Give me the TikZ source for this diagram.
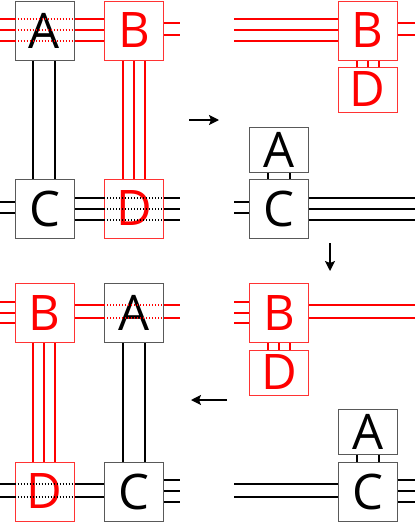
\documentclass[tikz,border=0pt]{standalone}
\usepackage{fontspec}
\setmainfont{Open Sans}
\usetikzlibrary{arrows.meta}
\pgfdeclarelayer{bg}
\pgfsetlayers{bg,main}
\begin{document}
\begin{tikzpicture}[x=1pt,y=-1pt,
  blkbox/.style={draw=black!65,line width=0.9pt,fill=white,minimum width=59pt,minimum height=59pt,inner sep=0pt,font=\fontsize{49}{49}\selectfont,text=black},
  redbox/.style={blkbox,draw=red!80,text=red},
  shortbox/.style={minimum height=45pt},
  bl/.style={line width=1.4pt,black},
  rl/.style={line width=1.4pt,red},
  bdot/.style={bl,dash pattern=on 1.4pt off 1.6pt},
  rdot/.style={rl,dash pattern=on 1.4pt off 1.6pt},
  flow/.style={line width=1.4pt,black,-{Stealth[length=10pt,width=10pt,inset=2pt]}}]
\useasboundingbox (0,0) rectangle (415,522);
% panel 1
\node[blkbox] (A1) at (44.5,30.5) {A};
\node[redbox] (B1) at (134,30.5) {B};
\node[blkbox] (C1) at (44.5,208.5) {C};
\node[redbox] (D1) at (134,208.5) {D};
% panel 2
\node[redbox] (B2) at (367.5,30.5) {B};
\node[redbox,shortbox] (D2) at (367.5,89.5) {D};
\node[blkbox,shortbox] (A2) at (279,149.5) {A};
\node[blkbox] (C2) at (279,208.5) {C};
% panel 3
\node[redbox] (B3) at (279,313) {B};
\node[redbox,shortbox] (D3) at (279,372.5) {D};
\node[blkbox,shortbox] (A3) at (367.5,432) {A};
\node[blkbox] (C3) at (367.5,491.5) {C};
% panel 4
\node[redbox] (B4) at (44.5,313) {B};
\node[blkbox] (A4) at (134,313) {A};
\node[redbox] (D4) at (44.5,491.5) {D};
\node[blkbox] (C4) at (134,491.5) {C};
\begin{pgfonlayer}{bg}
% panel 1
\foreach \y in {19,30,41} \draw[rl] (0,\y) -- (B1.west |- 0,\y);
\foreach \y in {23,35} \draw[rl] (B1.east |- 0,\y) -- (180,\y);
\foreach \x in {33,55} \draw[bl] (A1.south -| \x,0) -- (C1.north -| \x,0);
\foreach \x in {123,134,145} \draw[rl] (B1.south -| \x,0) -- (D1.north -| \x,0);
\foreach \y in {202,213} \draw[bl] (0,\y) -- (C1.west |- 0,\y);
\foreach \y in {198,209,220} \draw[bl] (C1.east |- 0,\y) -- (180,\y);
% panel 2
\foreach \y in {19,30,41} \draw[rl] (234,\y) -- (B2.west |- 0,\y);
\foreach \y in {23,35} \draw[rl] (B2.east |- 0,\y) -- (415,\y);
\foreach \x in {357,368,379} \draw[rl] (B2.south -| \x,0) -- (D2.north -| \x,0);
\foreach \x in {268,290} \draw[bl] (A2.south -| \x,0) -- (C2.north -| \x,0);
\foreach \y in {202,213} \draw[bl] (234,\y) -- (C2.west |- 0,\y);
\foreach \y in {198,209,220} \draw[bl] (C2.east |- 0,\y) -- (415,\y);
% panel 3
\foreach \y in {302,313,323} \draw[rl] (234,\y) -- (B3.west |- 0,\y);
\foreach \y in {305,318} \draw[rl] (B3.east |- 0,\y) -- (415,\y);
\foreach \x in {268,279,290} \draw[rl] (B3.south -| \x,0) -- (D3.north -| \x,0);
\foreach \x in {357,379} \draw[bl] (A3.south -| \x,0) -- (C3.north -| \x,0);
\foreach \y in {484,497} \draw[bl] (234,\y) -- (C3.west |- 0,\y);
\foreach \y in {480,491,502} \draw[bl] (C3.east |- 0,\y) -- (415,\y);
% panel 4
\foreach \y in {302,313,323} \draw[rl] (0,\y) -- (B4.west |- 0,\y);
\foreach \y in {305,318} \draw[rl] (B4.east |- 0,\y) -- (180,\y);
\foreach \x in {33,44,55} \draw[rl] (B4.south -| \x,0) -- (D4.north -| \x,0);
\foreach \x in {123,145} \draw[bl] (A4.south -| \x,0) -- (C4.north -| \x,0);
\foreach \y in {484,497} \draw[bl] (0,\y) -- (C4.west |- 0,\y);
\foreach \y in {480,491,502} \draw[bl] (C4.east |- 0,\y) -- (180,\y);
\end{pgfonlayer}
% dotted pass-through segments
\foreach \y in {19,30,41} \draw[rdot] (A1.west |- 0,\y) -- (A1.east |- 0,\y);
\foreach \y in {198,209,220} \draw[bdot] (D1.west |- 0,\y) -- (D1.east |- 0,\y);
\foreach \y in {305,318} \draw[rdot] (A4.west |- 0,\y) -- (A4.east |- 0,\y);
\foreach \y in {484,497} \draw[bdot] (D4.west |- 0,\y) -- (D4.east |- 0,\y);
% flow arrows
\coordinate (f1s) at (189,120);
\coordinate (f1e) at (219,120);
\coordinate (f2s) at (330,243);
\coordinate (f2e) at (330,271);
\coordinate (f3s) at (227,400);
\coordinate (f3e) at (191,400);
\draw[flow] (f1s) -- (f1e);
\draw[flow] (f2s) -- (f2e);
\draw[flow] (f3s) -- (f3e);
\end{tikzpicture}
\end{document}
